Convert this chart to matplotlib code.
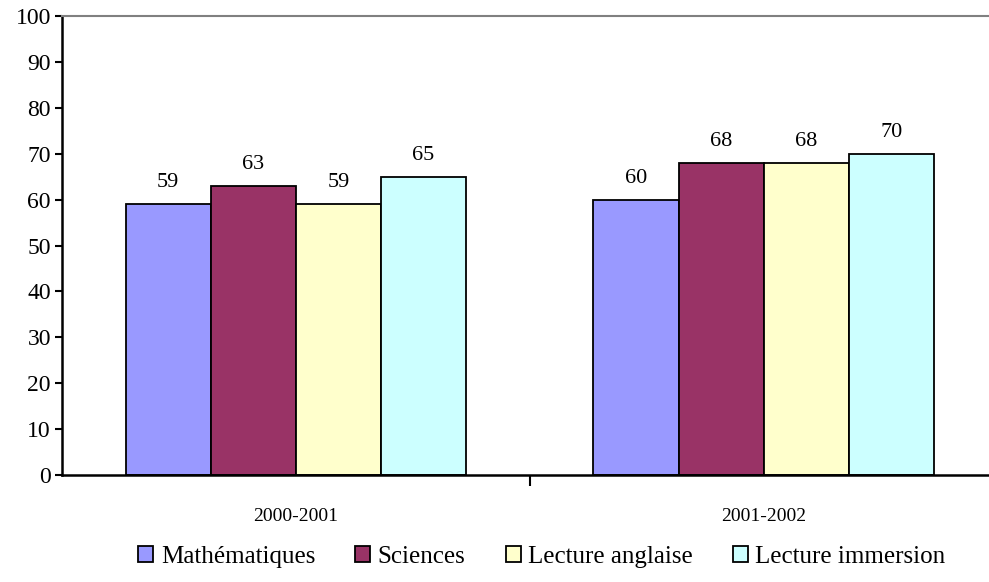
import numpy as np
import matplotlib.pyplot as plt

years = ["2000-2001", "2001-2002"]
subjects = ["Mathématiques", "Sciences", "Lecture anglaise", "Lecture immersion"]
math_vals = [59, 60]
science_vals = [63, 68]
english_vals = [59, 68]
immersion_vals = [65, 70]
colors = ["#9999FF", "#993366", "#FFFFCC", "#CCFFFF"]

plt.rcParams["font.family"] = ["Liberation Serif", "DejaVu Serif"]

fig = plt.figure(figsize=(9.89, 5.82), dpi=100)
ax = fig.add_axes([0.0627, 0.1838, 0.946, 0.7887])

x = np.arange(len(years))
width = 0.182
series = [math_vals, science_vals, english_vals, immersion_vals]
for i, (vals, name, col) in enumerate(zip(series, subjects, colors)):
    bars = ax.bar(x + (i - 1.5) * width, vals, width, color=col,
                  edgecolor="black", linewidth=1.3, label=name)
    for b, v in zip(bars, vals):
        ax.text(b.get_x() + b.get_width() / 2, v + 2.6, str(v),
                ha="center", va="bottom", fontsize=16)

ax.set_xlim(-0.5, 1.5)
ax.set_ylim(0, 100)
ax.set_yticks(range(0, 101, 10))
ax.tick_params(axis="y", labelsize=17, length=5, width=1.5, direction="out", pad=3)

ax.set_xticks([0.5])
ax.set_xticklabels([])
ax.tick_params(axis="x", which="major", length=8, width=1.5)
ax.set_xticks(x, minor=True)
ax.set_xticklabels(years, minor=True)
ax.tick_params(axis="x", which="minor", length=0, pad=24, labelsize=14)

ax.spines["left"].set_linewidth(1.8)
ax.spines["bottom"].set_linewidth(1.8)
ax.spines["top"].set_color("gray")
ax.spines["top"].set_linewidth(1.5)
ax.spines["right"].set_visible(False)

fig.legend(loc="center", bbox_to_anchor=(0.548, 0.043), ncol=4, frameon=False,
           fontsize=18, handlelength=0.6, handleheight=0.6, handletextpad=0.3,
           columnspacing=1.6)

fig.savefig("out.png", dpi=100)
